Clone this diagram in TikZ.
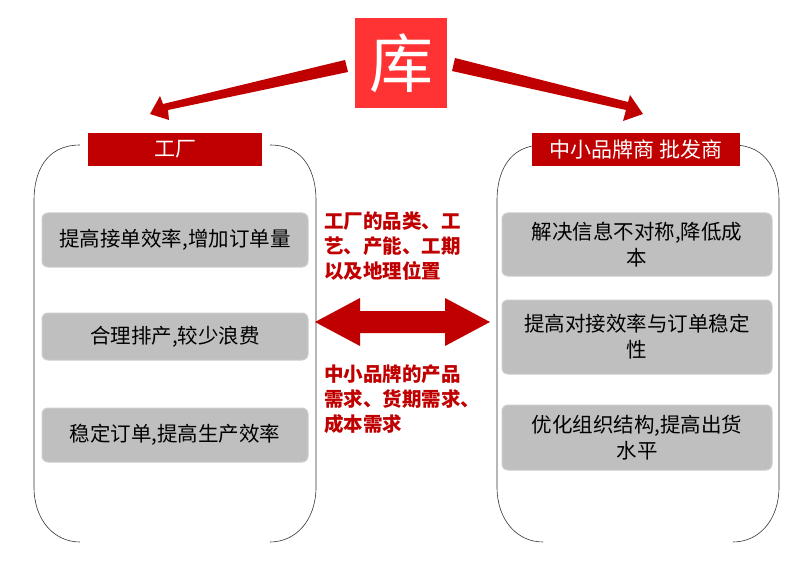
\documentclass[tikz,border=0pt]{standalone}
\usepackage{fontspec}
\setmainfont{Noto Sans CJK SC}
\definecolor{dred}{HTML}{C00000}
\definecolor{lred}{HTML}{FF3333}
\definecolor{gbox}{HTML}{BFBFBF}
\begin{document}
\begin{tikzpicture}[x=1pt,y=-1pt,
  gb/.style={fill=gbox,rounded corners=6pt,draw=gbox!80!white,line width=1pt,align=center,font=\fontsize{20.5}{26}\selectfont,inner sep=0pt},
  tt/.style={fill=dred,text=white,font=\fontsize{21}{24}\selectfont,inner sep=0pt},
  red/.style={text=dred,font=\bfseries\fontsize{19.5}{25}\selectfont,align=left,anchor=north west,inner sep=0pt},
  br/.style={draw=black!80,line width=0.6pt}]
\useasboundingbox (0,0) rectangle (812,575);
% logo
\node[fill=lred,minimum width=92pt,minimum height=90pt,inner sep=0pt,text=white,font=\fontsize{64}{66}\selectfont] (logo) at (401,63) {库};
% brackets
\foreach \a/\b in {34/316,497/779}{
  \draw[br] (\a+46,145) .. controls (\a+10,145) and (\a,175) .. (\a,200) -- (\a,487) .. controls (\a,520) and (\a+20,542) .. (\a+46,542);
  \draw[br] (\b-46,145) .. controls (\b-10,145) and (\b,175) .. (\b,200) -- (\b,487) .. controls (\b,520) and (\b-20,542) .. (\b-46,542);
}
% titles
\node[tt,minimum width=174pt,minimum height=33pt] (f) at (175,149.5) {工厂};
\node[tt,minimum width=208pt,minimum height=33pt] (s) at (636,149.5) {中小品牌商 批发商};
% arrows from logo
\fill[dred] (345,60) -- (348,72) -- (168,110) -- (169,120) -- (150,114) -- (160,96) -- (163,104) -- cycle;
\fill[dred] (455,58) -- (452,71) -- (626,110) -- (623,121) -- (643,114) -- (630,95) -- (628,102) -- cycle;
% grey boxes
\node[gb,minimum width=266pt,minimum height=54pt] (l1) at (175,240) {提高接单效率,增加订单量};
\node[gb,minimum width=266pt,minimum height=47pt] (l2) at (175,336.5) {合理排产,较少浪费};
\node[gb,minimum width=266pt,minimum height=54pt] (l3) at (175,435) {稳定订单,提高生产效率};
\node[gb,minimum width=270pt,minimum height=63pt,text width=250pt] (r1) at (637,244.5) {解决信息不对称,降低成\\本};
\node[gb,minimum width=270pt,minimum height=74pt,text width=250pt] (r2) at (637,337) {提高对接效率与订单稳定\\性};
\node[gb,minimum width=270pt,minimum height=65pt,text width=250pt] (r3) at (637,437.5) {优化组织结构,提高出货\\水平};
% middle double arrow
\fill[dred] (315,322) -- (360,298) -- (360,311) -- (445,311) -- (445,298) -- (490,322) -- (445,346) -- (445,333) -- (360,333) -- (360,346) -- cycle;
\node[red] (t1) at (324,212) {工厂的品类、工\\艺、产能、工期\\以及地理位置};
\node[red] (t2) at (324,365) {中小品牌的产品\\需求、货期需求、\\成本需求};
\end{tikzpicture}
\end{document}
